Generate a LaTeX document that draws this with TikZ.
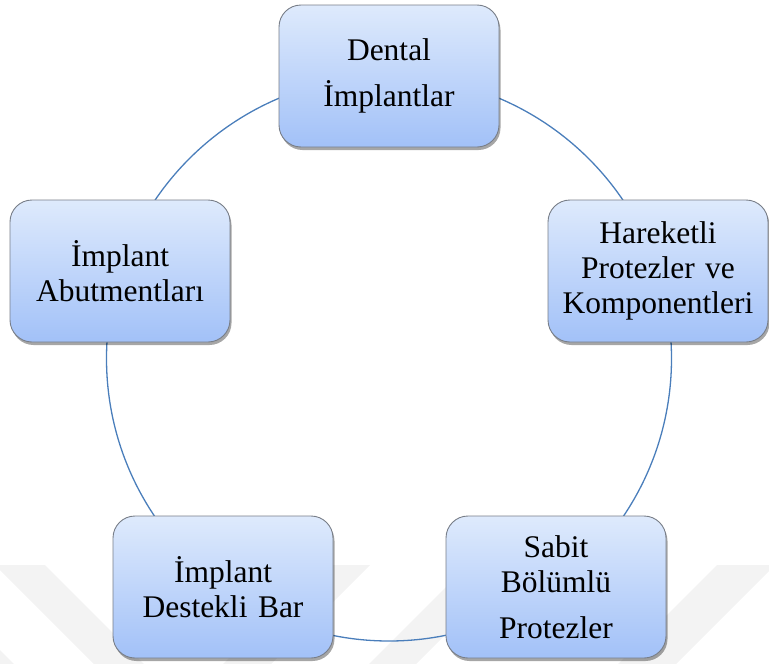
\documentclass[tikz,border=0pt]{standalone}
\usepackage{fontspec}
\setmainfont{Liberation Serif}
\usetikzlibrary{shadows}
\definecolor{boxtop}{RGB}{222,234,252}
\definecolor{boxbot}{RGB}{162,193,248}
\definecolor{boxedge}{RGB}{120,126,136}
\definecolor{ringblue}{RGB}{74,126,187}
\definecolor{wmark}{RGB}{243,243,243}
\tikzset{
  itembox/.style={rectangle, rounded corners=22pt, draw=boxedge, line width=0.9pt,
    top color=boxtop, bottom color=boxbot,
    minimum width=220pt, minimum height=142pt, text width=214pt, inner xsep=3pt,
    align=center, font=\fontsize{31.5}{35}\selectfont, text=black,
    drop shadow={shadow xshift=1.5pt, shadow yshift=-3pt, opacity=0.35, fill=black}},
  ring/.style={draw=ringblue, line width=1.3pt},
  wm/.style={fill=wmark, draw=none}
}
\begin{document}
\begin{tikzpicture}[x=1pt, y=-1pt]
\useasboundingbox (0,0) rectangle (769,664);
% faint watermark bands
\fill[wm] (-5,565) -- (45,565) -- (144,664) -- (94,664) -- cycle;
\fill[wm] (0,650) -- (14,664) -- (0,664) -- cycle;
\fill[wm] (322,565) -- (370,565) -- (271,664) -- (223,664) -- cycle;
\fill[wm] (468,565) -- (515,565) -- (416,664) -- (369,664) -- cycle;
\fill[wm] (717,565) -- (775,565) -- (676,664) -- (618,664) -- cycle;
% ring
\coordinate (c) at (389,358.5);
\draw[ring] (c) circle[radius=282.5pt];
% boxes
\node[itembox] (n1) at (389,76) {Dental\\[11pt]İmplantlar};
\node[itembox] (n2) at (658,271) {Hareketli\\Protezler ve\\Komponentleri};
\node[itembox] (n3) at (556,587) {Sabit\\Bölümlü\\[11pt]Protezler};
\node[itembox] (n4) at (223,587) {İmplant\\Destekli Bar};
\node[itembox] (n5) at (120,271) {İmplant\\Abutmentları};
\end{tikzpicture}
\end{document}
